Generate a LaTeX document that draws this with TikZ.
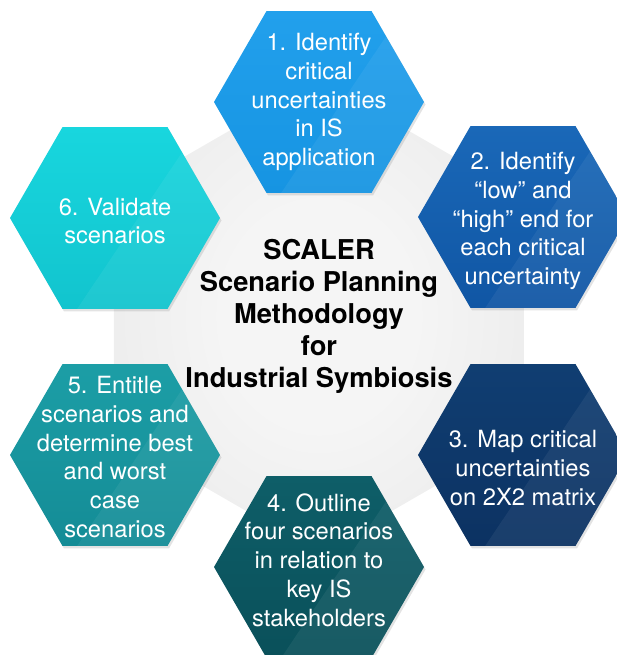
\documentclass[tikz,border=0pt]{standalone}
\usepackage{fontspec}
\setmainfont{TeX Gyre Heros}
\usetikzlibrary{shapes.geometric,shadows,calc}
\definecolor{c1t}{RGB}{34,160,236}
\definecolor{c1b}{RGB}{22,148,226}
\definecolor{c2t}{RGB}{26,104,184}
\definecolor{c2b}{RGB}{16,86,164}
\definecolor{c3t}{RGB}{16,62,114}
\definecolor{c3b}{RGB}{12,50,98}
\definecolor{c4t}{RGB}{14,94,104}
\definecolor{c4b}{RGB}{10,80,90}
\definecolor{c5t}{RGB}{28,158,166}
\definecolor{c5b}{RGB}{20,140,150}
\definecolor{c6t}{RGB}{24,214,222}
\definecolor{c6b}{RGB}{18,196,206}
\pgfdeclareradialshading{coreshade}{\pgfpoint{0bp}{0bp}}{color(0bp)=(white!96!black); color(12bp)=(white!96!black); color(50bp)=(white!88!black); color(70bp)=(white!86!black)}
\begin{document}
\begin{tikzpicture}[x=1pt,y=-1pt,
  hexa/.style={regular polygon, regular polygon sides=6, minimum size=210pt,
    inner sep=0pt, outer sep=0pt, draw=none,
    drop shadow={opacity=0.22, shadow xshift=1.5pt, shadow yshift=-2.5pt},
    path picture={\fill[white,opacity=0.06]
      ($(path picture bounding box.south west)!0.32!(path picture bounding box.south east)$)
      -- ($(path picture bounding box.north west)!0.9!(path picture bounding box.north east)$)
      -- (path picture bounding box.north east) -- (path picture bounding box.south east) -- cycle;}},
  txt/.style={text=white, font=\fontsize{23.7}{28.8}\selectfont, align=center, inner sep=0pt},
  ctr/.style={text=black, font=\fontsize{27.3}{32}\selectfont\bfseries, align=center, inner sep=0pt}
]
\useasboundingbox (0,0) rectangle (617,655);
\clip (0,0) rectangle (617,655);
\node[regular polygon, regular polygon sides=6, shape border rotate=90,
  minimum size=474pt, inner sep=0pt, outer sep=0pt, shading=coreshade] (core) at (319,316) {};
\node[hexa, top color=c1t, bottom color=c1b] (h1) at (319,102) {};
\node[hexa, top color=c2t, bottom color=c2b] (h2) at (523,217) {};
\node[hexa, top color=c3t, bottom color=c3b] (h3) at (523,455) {};
\node[hexa, top color=c4t, bottom color=c4b] (h4) at (319,567) {};
\node[hexa, top color=c5t, bottom color=c5b] (h5) at (115,455) {};
\node[hexa, top color=c6t, bottom color=c6b] (h6) at (115,218) {};
\node[ctr] (c) at (319,316) {SCALER\\Scenario Planning\\Methodology\\for\\Industrial Symbiosis};
\node[txt] (t1) at (319,102) {1. Identify\\critical\\uncertainties\\in IS\\application};
\node[txt] (t2) at (523,221) {2. Identify\\“low” and\\“high” end for\\each critical\\uncertainty};
\node[txt] (t3) at (523,468) {3. Map critical\\uncertainties\\on 2X2 matrix};
\node[txt] (t4) at (319,560) {4. Outline\\four scenarios\\in relation to\\key IS\\stakeholders};
\node[txt] (t5) at (115,457) {5. Entitle\\scenarios and\\determine best\\and worst\\case\\scenarios};
\node[txt] (t6) at (115,221) {6. Validate\\scenarios};
\end{tikzpicture}
\end{document}
